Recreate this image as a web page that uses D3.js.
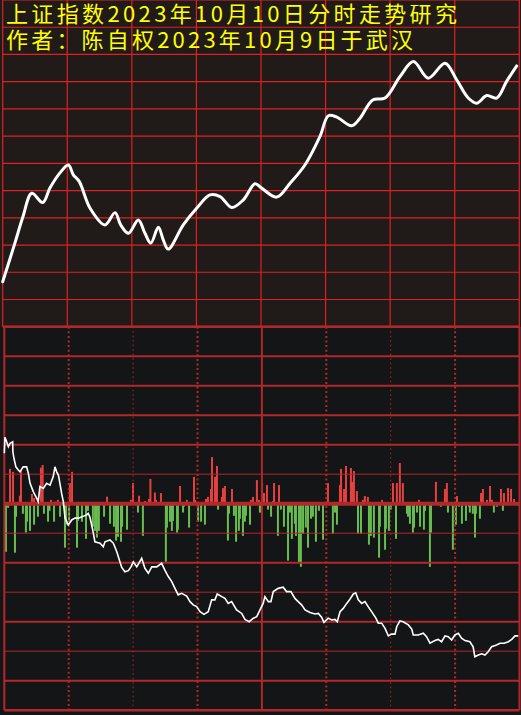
<!DOCTYPE html>
<html><head><meta charset="utf-8">
<script src="https://cdn.jsdelivr.net/npm/d3@7"></script>
<style>html,body{margin:0;padding:0;background:#141517;}svg{display:block}</style>
</head><body><div id="chart"></div>
<script>
// ---------- data ----------
const titleLines = ["上证指数2023年10月10日分时走势研究", "作者：陈自权2023年10月9日于武汉"];
const minuteTicks = [0, 30, 60, 90, 120, 150, 180, 210, 240];
const levelTicks = [0,1,2,3,4,5,6,7,8,9,10,11,12];
const flowTicks = [-7,-6,-5,-4,-3,-2,-1,0,1,2,3,4,5,6];

// upper panel: index trend (grid units)
const priceMinutes = [0,5.7,9.4,13.5,18.6,22.0,26.6,30.5,32.8,35.6,40.6,47.5,52.2,54.8,58.4,63.0,66.1,68.8,72.3,74.6,76.9,83.9,90.1,96.3,101.0,106.4,111.8,117.2,120.3,127.3,133.5,140.4,147.4,151.3,155.2,162.1,166.0,171.9,177.6,184.6,190.8,197.7,205.5,210.9,216.3,220.2,224.9,229.5,234.1,238.8];
const priceValues  = [1.65,3.08,4.04,4.90,4.56,5.10,5.65,5.94,5.58,5.33,4.35,3.74,4.19,3.74,3.43,3.92,3.43,3.07,3.65,3.19,2.85,3.74,4.35,4.84,4.78,4.38,4.66,5.25,5.09,4.76,5.27,5.94,6.99,7.75,7.70,7.38,7.66,8.33,8.40,9.19,9.74,9.13,9.68,9.07,8.40,8.21,8.49,8.40,9.01,9.58];

// lower panel: up bars [minute, value]
const upBars = [[2.2,1.18],[3.6,1.08],[6.8,0.27],[7.3,1.12],[12.4,0.33],[13.4,0.19],[16.6,1.22],[17.4,1.31],[21.3,0.13],[23.4,0.07],
[24.5,0.13],[30.1,0.70],[31.1,1.08],[47.4,0.24],[58.5,0.13],[59.5,0.70],[62.3,0.27],[65.1,0.09],[66.9,0.16],[67.6,0.84],
[69.7,0.38],[70.2,0.13],[72.5,0.36],[81.4,0.60],[84.6,0.13],[87.9,0.91],[88.4,0.13],[93.5,0.16],[94.4,0.23],[95.8,0.50],
[96.3,1.58],[97.7,0.91],[98.6,1.28],[100.9,0.23],[101.4,0.53],[102.3,0.60],[105.6,0.50],[114.4,0.13],[115.4,0.23],[117.2,0.80],
[118.2,0.13],[119.6,0.70],[120.5,0.36],[121.9,0.63],[124.7,0.09],[125.2,0.70],[127.5,0.63],[145.6,0.06],[150.3,0.70],[155.9,0.63],
[156.4,1.18],[157.8,0.50],[158.7,1.28],[161.0,1.21],[161.5,0.74],[162.4,1.11],[163.8,0.43],[166.6,0.13],[167.5,0.26],[168.9,0.23],
[175.5,0.13],[180.6,0.70],[182.4,0.70],[183.8,1.38],[185.2,0.70],[192.7,0.13],[196.9,0.06],[199.7,0.06],[200.6,0.74],[203.4,0.06],
[204.8,0.50],[205.7,0.70],[208.1,0.06],[210.4,0.26],[213.6,0.06],[221.6,0.36],[222.5,0.50],[224.4,0.13],[225.8,0.60],[226.7,0.13],
[230.9,0.50],[232.3,0.36],[234.2,0.53],[234.6,0.06],[235.6,0.50],[237.0,0.16]];

// lower panel: down bars [minute, value]
const downBars = [[0.3,-1.63],[1.3,-0.14],[4.5,-1.66],[5.0,-0.44],[8.2,-0.34],[9.6,-0.98],[10.1,-0.61],[11.5,-0.92],[13.4,-0.71],[15.2,-0.44],
[18.0,-0.34],[19.9,-0.61],[20.6,-0.24],[22.7,-0.61],[25.5,-0.44],[27.8,-1.49],[28.3,-0.71],[29.7,-0.61],[33.4,-1.49],[33.9,-0.58],
[35.7,-0.61],[37.6,-1.19],[38.5,-0.24],[40.8,-0.78],[41.8,-0.92],[42.7,-1.15],[43.6,-0.92],[46.0,-0.44],[48.8,-0.68],[50.6,-0.78],
[51.6,-1.25],[52.5,-1.12],[53.9,-1.29],[54.4,-0.78],[56.7,-0.88],[61.8,-0.30],[64.1,-1.09],[74.8,-1.97],[75.3,-0.81],[76.7,-0.61],
[77.6,-0.92],[78.1,-0.58],[80.0,-0.98],[80.4,-0.88],[82.8,-0.30],[83.2,-0.10],[85.6,-0.81],[89.8,-0.61],[91.2,-0.61],[93.0,-0.71],
[99.1,-0.20],[103.7,-1.25],[104.2,-0.34],[106.5,-0.41],[107.5,-1.29],[108.8,-0.92],[109.3,-0.51],[110.7,-1.09],[111.6,-0.61],[112.1,-0.41],
[114.0,-0.71],[118.6,-0.30],[119.1,-0.30],[122.4,-0.20],[123.8,-0.44],[127.0,-1.09],[128.4,-0.20],[129.8,-0.78],[131.7,-1.93],[132.6,-0.30],
[133.5,-1.19],[134.9,-0.68],[135.4,-1.09],[136.8,-2.00],[137.7,-2.14],[138.7,-1.02],[140.0,-0.81],[141.0,-1.49],[142.4,-0.51],[143.3,-0.44],
[144.7,-1.29],[146.1,-0.24],[148.0,-1.22],[152.6,-1.02],[153.6,-0.30],[154.5,-0.71],[164.3,-1.02],[165.7,-1.02],[169.4,-1.39],[170.3,-1.09],
[171.7,-1.15],[174.1,-1.83],[174.5,-0.78],[176.9,-1.56],[177.3,-0.85],[178.7,-0.92],[179.6,-0.20],[182.0,-1.19],[187.1,-0.34],[187.6,-0.44],
[188.5,-0.68],[189.9,-0.98],[190.4,-0.81],[191.8,-0.30],[193.2,-0.78],[195.0,-0.88],[195.5,-0.24],[197.8,-2.14],[198.3,-0.98],[202.9,-0.10],
[206.2,-0.30],[208.5,-1.56],[209.9,-0.71],[211.3,-0.10],[212.7,-0.68],[214.6,-0.58],[216.0,-0.10],[216.4,-0.30],[217.8,-0.34],[218.8,-1.15],
[219.2,-0.34],[221.1,-0.51],[227.6,-0.30],[229.0,-0.10],[231.8,-0.24]];

// lower panel: cumulative line [minute, value]
const flowLine = [[0,1.71],[0.3,2.25],[1.1,2.10],[1.9,1.93],[2.7,2.05],[3.9,2.10],[4.0,1.76],[4.5,1.54],[5.4,1.25],[6.5,1.14],
[7.3,1.08],[8.8,1.25],[10.4,1.25],[11.2,1.03],[12.0,0.69],[13.5,0.41],[15.1,0.18],[15.8,0.07],[16.6,0.58],[18.2,0.52],
[19.7,0.69],[21.3,0.63],[22.8,0.92],[23.6,1.25],[24.4,1.08],[25.2,0.97],[25.9,0.69],[26.7,0.35],[27.5,0.07],[28.3,-0.49],
[29.8,-0.72],[31.4,-0.55],[32.9,-0.49],[34.5,-0.49],[38.4,-0.38],[39.1,-0.33],[39.9,-0.46],[41.2,-0.89],[42.2,-1.29],[44.6,-1.34],
[46.1,-1.46],[46.9,-1.29],[49.2,-1.23],[50.8,-1.34],[52.4,-1.63],[53.6,-1.91],[54.7,-2.16],[56.2,-2.31],[57.8,-2.27],[59.0,-2.14],
[60.1,-1.97],[61.7,-2.14],[64.0,-1.85],[65.5,-2.19],[67.1,-2.36],[68.7,-2.14],[71.0,-2.14],[73.3,-2.02],[74.8,-2.25],[76.4,-2.47],
[78.0,-2.64],[79.5,-2.87],[81.0,-3.09],[82.6,-3.04],[85.0,-3.13],[86.5,-3.32],[88.0,-3.43],[89.6,-3.49],[91.2,-3.66],[93.0,-3.75],
[95.0,-3.66],[96.6,-3.26],[98.1,-3.26],[99.2,-3.06],[101.3,-3.15],[102.8,-3.21],[104.3,-3.38],[105.9,-3.32],[108.2,-3.60],[110.6,-3.72],
[112.1,-3.92],[114.1,-4.00],[116.0,-3.88],[117.6,-3.83],[119.1,-3.60],[120.6,-3.38],[121.4,-3.15],[123.0,-3.32],[124.2,-3.32],[125.3,-2.98],
[127.6,-2.87],[129.9,-2.83],[131.5,-2.98],[133.5,-2.98],[135.4,-3.21],[136.9,-3.32],[138.5,-3.43],[140.1,-3.60],[142.4,-3.69],[144.7,-3.74],
[146.3,-3.72],[147.8,-3.85],[148.9,-4.02],[150.9,-3.88],[152.5,-3.94],[154.0,-3.92],[155.1,-4.00],[156.4,-3.66],[157.9,-3.55],[159.5,-3.38],
[161.0,-3.24],[162.6,-3.06],[163.7,-3.02],[164.9,-3.26],[166.5,-3.38],[168.0,-3.32],[169.5,-3.49],[171.1,-3.66],[173.1,-3.88],[174.2,-4.05],
[175.8,-4.05],[177.3,-4.22],[178.9,-4.48],[180.4,-4.42],[182.0,-4.42],[182.8,-4.17],[184.3,-3.97],[185.8,-4.00],[188.2,-4.11],[189.8,-4.25],
[190.5,-4.45],[192.8,-4.45],[195.2,-4.39],[196.7,-4.51],[198.3,-4.73],[200.6,-4.64],[202.1,-4.60],[203.7,-4.68],[205.3,-4.48],[206.8,-4.51],
[208.4,-4.62],[209.9,-4.45],[211.5,-4.39],[213.0,-4.56],[214.6,-4.64],[216.9,-4.68],[218.4,-4.85],[219.2,-5.19],[220.8,-5.13],[222.4,-5.09],
[223.9,-5.13],[225.4,-5.02],[227.0,-4.85],[229.3,-4.79],[230.9,-4.73],[232.8,-4.73],[234.8,-4.68],[236.4,-4.60],[237.9,-4.48],[239.4,-4.48]];

// ---------- drawing ----------
const W = 521, H = 715;
const svg = d3.select("#chart").append("svg").attr("width", W).attr("height", H);

const topBg = "#201a19", botBg = "#141517";
const topGrid = "#dc2222", botGrid = "#b0282a";

// scales
const xTop = d3.scaleLinear().domain([0, 240]).range([2.7, 519.3]);
const yTop = d3.scaleLinear().domain([0, 12]).range([326.7, 0]);
const xBot = d3.scaleLinear().domain([0, 240]).range([4.3, 519.5]);
const yBot = d3.scaleLinear().domain([-7, 6]).range([710.2, 326.7]);

// backgrounds
svg.append("rect").attr("x",0).attr("y",0).attr("width",W).attr("height",yTop(0)).attr("fill",topBg);
svg.append("rect").attr("x",0).attr("y",yTop(0)).attr("width",W).attr("height",H-yTop(0)).attr("fill",botBg);

// top grid
const gTop = svg.append("g");
gTop.selectAll("line.h").data(levelTicks).join("line")
  .attr("x1", xTop(0)).attr("x2", xTop(240))
  .attr("y1", d => yTop(d)).attr("y2", d => yTop(d))
  .attr("stroke", topGrid).attr("stroke-width", d => (d === 0 ? 2 : 1.2));
gTop.selectAll("line.v").data(minuteTicks).join("line")
  .attr("x1", d => xTop(d)).attr("x2", d => xTop(d))
  .attr("y1", yTop(12)).attr("y2", yTop(0))
  .attr("stroke", topGrid).attr("stroke-width", 1.2);

// titles
svg.selectAll("text.title").data(titleLines).join("text")
  .attr("class", "title")
  .attr("x", 6).attr("y", (d, i) => 22 + i * 25.5)
  .attr("fill", "#ffff00")
  .attr("font-family", "'Noto Sans CJK SC', sans-serif")
  .attr("font-size", 22)
  .attr("textLength", (d, i) => i === 0 ? 451 : 407)
  .attr("lengthAdjust", "spacing")
  .text(d => d);

// top curve
const priceData = priceMinutes.map((m, i) => [m, priceValues[i]]);
svg.append("path").datum(priceData)
  .attr("fill", "none").attr("stroke", "#ffffff").attr("stroke-width", 3)
  .attr("stroke-linejoin", "round").attr("stroke-linecap", "round")
  .attr("d", d3.line().x(d => xTop(d[0])).y(d => yTop(d[1])).curve(d3.curveCatmullRom.alpha(0.5)));

// bottom bars
const gBars = svg.append("g");
gBars.selectAll("rect.up").data(upBars).join("rect")
  .attr("x", d => xBot(d[0])).attr("width", 2)
  .attr("y", d => yBot(d[1])).attr("height", d => yBot(0) - yBot(d[1]))
  .attr("fill", "#e6413f");
gBars.selectAll("rect.dn").data(downBars).join("rect")
  .attr("x", d => xBot(d[0])).attr("width", 2)
  .attr("y", yBot(0)).attr("height", d => yBot(d[1]) - yBot(0))
  .attr("fill", "#68bc50");

// bottom grid
const widthOf = v => ({6:2.5,5:2,4:2,3:2,2:2,1:1,0:4,"-1":1,"-2":2,"-3":1,"-4":2,"-5":1,"-6":2,"-7":2.5})[v];
const gBot = svg.append("g");
gBot.selectAll("line.h").data(flowTicks).join("line")
  .attr("x1", xBot(0)).attr("x2", xBot(240))
  .attr("y1", d => yBot(d)).attr("y2", d => yBot(d))
  .attr("stroke", botGrid).attr("stroke-width", d => widthOf(d));
gBot.selectAll("line.v").data(minuteTicks).join("line")
  .attr("x1", d => xBot(d)).attr("x2", d => xBot(d))
  .attr("y1", yBot(6)).attr("y2", yBot(-7))
  .attr("stroke", botGrid)
  .attr("stroke-width", d => (d % 120 === 0 ? 2 : (d % 60 === 0 ? 1 : 2)))
  .attr("stroke-dasharray", d => (d % 120 === 0 ? null : (d % 60 === 0 ? "1.5,3" : "2,2.6")));

// bottom line
svg.append("path").datum(flowLine)
  .attr("fill", "none").attr("stroke", "#ffffff").attr("stroke-width", 1.6)
  .attr("d", d3.line().x(d => xBot(d[0])).y(d => yBot(d[1])));
</script>
</body></html>
